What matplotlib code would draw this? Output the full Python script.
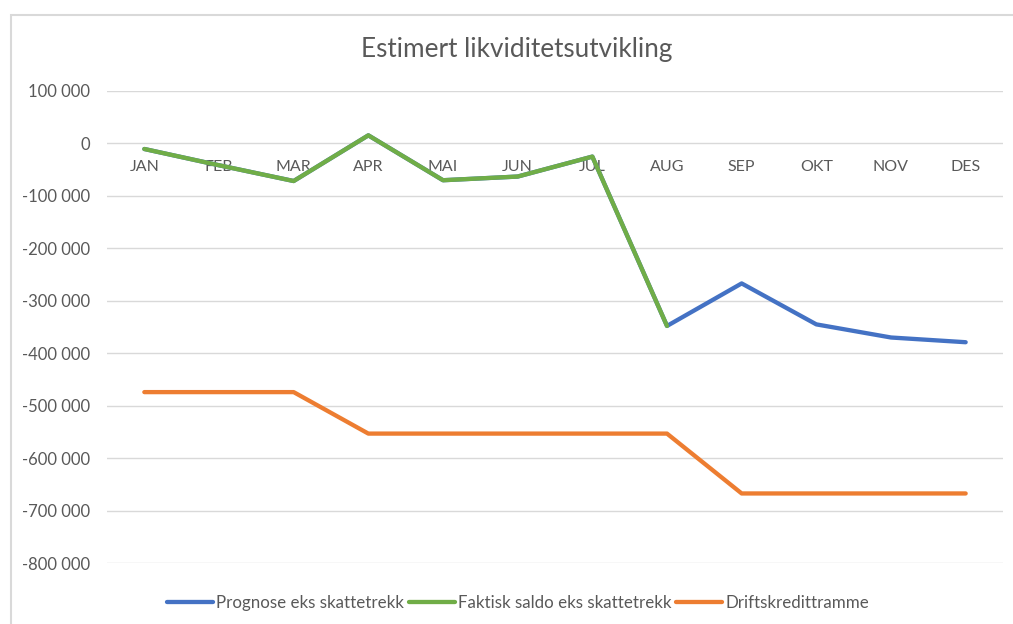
import matplotlib
matplotlib.use("Agg")
import matplotlib.pyplot as plt
from matplotlib.patches import Rectangle
from matplotlib.ticker import FuncFormatter, MultipleLocator

months = ["JAN", "FEB", "MAR", "APR", "MAI", "JUN", "JUL", "AUG", "SEP", "OKT", "NOV", "DES"]
prognose = [-11000, -42000, -72000, 15000, -70500, -63500, -25500, -348000, -267000, -345000, -370000, -379000]
faktisk = [-11000, -42000, -72000, 15000, -70500, -63500, -25500, -348000]
drift = [-474000, -474000, -474000, -553000, -553000, -553000, -553000, -553000, -667000, -667000, -667000, -667000]
series_names = ["Prognose eks skattetrekk", "Faktisk saldo eks skattetrekk", "Driftskredittramme"]
title = "Estimert likviditetsutvikling"

plt.rcParams['font.family'] = ['Lato', 'DejaVu Sans']
TXT = '#595959'

W, H = 1013, 624
fig = plt.figure(figsize=(W / 100, H / 100), dpi=100)
left, right = 107 / W, 1003 / W
top, bottom = 1 - 90.7 / H, 1 - 563.3 / H
ax = fig.add_axes([left, bottom, right - left, top - bottom])

# chart border
fig.patches.append(Rectangle((11 / W, -0.1), 1.5, (H - 15) / H + 0.1, transform=fig.transFigure,
                             fill=False, edgecolor='#d9d9d9', linewidth=1.5, zorder=0))

x = list(range(len(months)))
c_blue, c_green, c_orange = '#4472C4', '#70AD47', '#ED7D31'
lw = 3.1
ax.plot(x, prognose, color=c_blue, lw=lw, solid_capstyle='round', solid_joinstyle='round', label=series_names[0], zorder=3)
ax.plot(x[:len(faktisk)], faktisk, color=c_green, lw=lw, solid_capstyle='round', solid_joinstyle='round', label=series_names[1], zorder=4)
ax.plot(x, drift, color=c_orange, lw=lw, solid_capstyle='round', solid_joinstyle='round', label=series_names[2], zorder=3)

ax.set_xlim(-0.5, 11.5)
ax.set_ylim(-800000, 100000)
ax.yaxis.set_major_locator(MultipleLocator(100000))
ax.yaxis.set_major_formatter(FuncFormatter(lambda v, p: f"{int(round(v)):,}".replace(",", " ")))
ax.grid(axis='y', color='#d9d9d9', lw=1.0, zorder=0)
for s in ax.spines.values():
    s.set_visible(False)
ax.set_xticks([])
ax.tick_params(axis='y', length=0, pad=12.2, labelsize=12, labelcolor=TXT)

for i, m in enumerate(months):
    ax.annotate(m, (i, 0), xytext=(0, -17), textcoords='offset points', ha='center', va='center',
                fontsize=11.5, color=TXT, zorder=2)

fig.text(517 / W, 1 - 50 / H, title, ha='center', va='center', fontsize=18.8, color=TXT)

leg = fig.legend(loc='center', bbox_to_anchor=(518 / W, 1 - 603 / H), ncol=3, frameon=False,
                 fontsize=12.2, labelcolor=TXT, handlelength=2.7, handletextpad=0.18, columnspacing=0.3)

fig.savefig("out.png", dpi=100)
